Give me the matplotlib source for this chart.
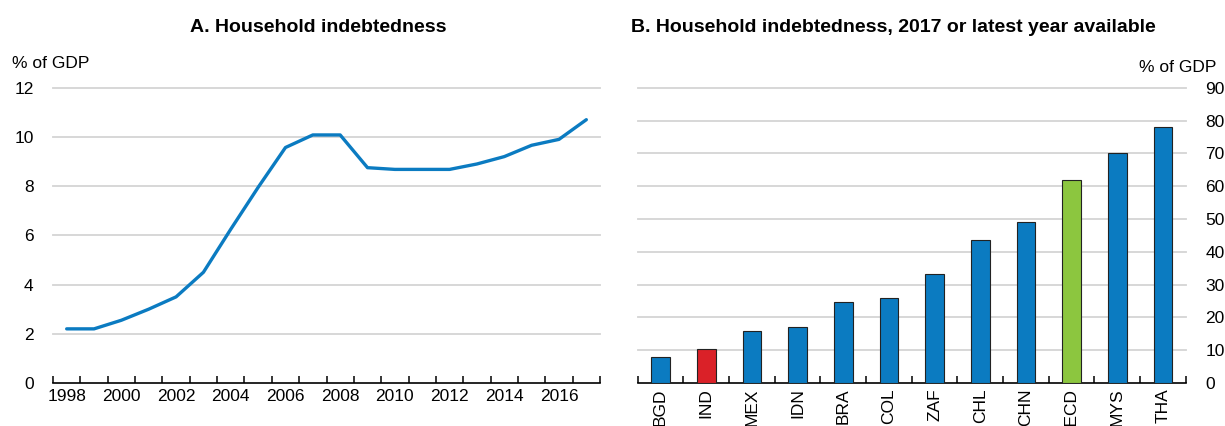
import matplotlib
matplotlib.use('Agg')
import matplotlib.pyplot as plt
import numpy as np

plt.rcParams['font.family'] = ['Liberation Sans', 'DejaVu Sans']

# panel A: household debt, % of GDP
years = list(range(1998, 2018))
debt = [2.2, 2.2, 2.55, 3.0, 3.5, 4.5, 6.25, 7.95, 9.57, 10.08, 10.08, 8.75,
        8.68, 8.68, 8.68, 8.9, 9.2, 9.66, 9.9, 10.7]

# panel B: 2017 or latest year
countries = ['BGD', 'IND', 'MEX', 'IDN', 'BRA', 'COL', 'ZAF', 'CHL', 'CHN', 'OECD', 'MYS', 'THA']
values = [7.8, 10.5, 16.0, 17.0, 24.7, 25.9, 33.1, 43.6, 49.1, 62.0, 70.1, 78.0]

blue = '#0b7bc1'
bar_colors = {'IND': '#da2128', 'OECD': '#8cc63f'}
grid_col = '#d4d4d4'
fs = 12.5

fig = plt.figure(figsize=(12.25, 4.26), dpi=100)
axA = fig.add_axes([53/1225, 1-383/426, 547/1225, (383-87.7)/426])
axB = fig.add_axes([637.7/1225, 1-383/426, 548/1225, (383-87.7)/426])

#panel A
x = np.arange(len(years))
axA.plot(x, debt, color=blue, lw=2.4, solid_capstyle='round', zorder=3)
axA.set_xlim(-0.5, len(years)-0.5)
axA.set_ylim(0, 12)
axA.set_yticks(range(0, 13, 2))
axA.set_xticks(np.arange(-0.5, len(years), 1))
axA.set_xticklabels([])
axA.set_xticks(x[::2], minor=True)
axA.set_xticklabels([str(y) for y in years[::2]], minor=True)

#panel B
xb = np.arange(len(countries))
cols = [bar_colors.get(c, blue) for c in countries]
axB.bar(xb, values, width=0.41, color=cols, edgecolor='#222222', linewidth=0.8, zorder=3)
axB.set_xlim(-0.5, len(countries)-0.5)
axB.set_ylim(0, 90)
axB.set_yticks(range(0, 91, 10))
axB.yaxis.tick_right()
axB.set_xticks(np.arange(-0.5, len(countries), 1))
axB.set_xticklabels([])
axB.set_xticks(xb, minor=True)
axB.set_xticklabels(countries, minor=True, rotation=90)

for ax in (axA, axB):
    for s in ['top', 'left', 'right']:
        ax.spines[s].set_visible(False)
    ax.spines['bottom'].set_linewidth(1.2)
    ax.yaxis.grid(True, color=grid_col, lw=1.3)
    ax.set_axisbelow(True)
    ax.tick_params(axis='y', length=0, labelsize=fs, pad=14)
    ax.tick_params(axis='x', which='major', direction='in', length=5, width=1.1)
    ax.tick_params(axis='x', which='minor', length=0, labelsize=fs, pad=4)
    for gl in ax.get_ygridlines():
        gl.set_clip_on(False)
    ax.get_ygridlines()[0].set_visible(False)

fig.text(12/1225, 1-63/426, '% of GDP', fontsize=fs, ha='left', va='center')
fig.text(1216/1225, 1-68/426, '% of GDP', fontsize=fs, ha='right', va='center')

fig.text(318/1225, 1-27/426, 'A. Household indebtedness', fontsize=14, fontweight='bold', ha='center', va='center')
fig.text(893/1225, 1-27/426, 'B. Household indebtedness, 2017 or latest year available', fontsize=14,
         fontweight='bold', ha='center', va='center')

plt.savefig('out.png', dpi=100)
